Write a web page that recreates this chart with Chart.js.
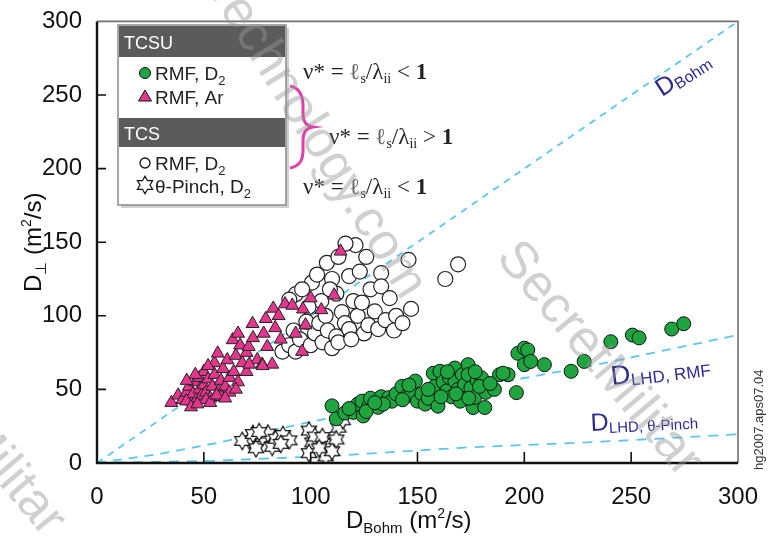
<!DOCTYPE html>
<html>
<head>
<meta charset="utf-8">
<script src="https://cdn.jsdelivr.net/npm/chart.js@4.4.0/dist/chart.umd.min.js"></script>
<style>
  html, body { margin: 0; padding: 0; background: #fff; }
</style>
</head>
<body>
<canvas id="chart" width="770" height="538"></canvas>
<script>
// TCSU, RMF, D2 (green dots)
const greenX = [110, 112, 116, 120, 122, 124.6, 124, 127, 128, 131.6, 133, 136.5, 138, 140, 142.7, 145, 147, 149, 150, 152,
  153.6, 155, 157.4, 158, 159.6, 160.5, 162, 163.7, 165, 166, 167.5, 167.5, 169, 170, 171, 172, 173.7, 173.7, 175, 176,
  176.7, 178, 180, 181.5, 182, 186, 188.4, 192.4, 196.3, 197, 200, 200, 201.6, 203, 209.4, 221.9, 228, 240.5, 250.6, 253.7,
  269, 274.6, 134, 143, 146, 155, 161, 164, 168, 174, 177, 179, 184, 190, 118, 126, 130];
const greenY = [38.8, 30, 34, 34.4, 40, 32, 42, 38, 44, 37.8, 45, 44.4, 42, 47, 52, 45.5, 48, 55.6, 42, 47,
  40, 44, 61, 52, 38.6, 62.3, 55, 49, 58, 45, 64.5, 55.5, 50, 42, 60, 53, 66.8, 60, 51, 37.7,
  44.5, 56, 57.8, 37.7, 48, 50, 60, 60, 47.8, 74.5, 66.8, 78, 76.8, 69, 66.8, 62.3, 69, 82.4, 86.9, 85,
  91, 94.6, 40, 43, 53, 50, 45, 62, 47, 44, 62, 52, 54, 61, 37, 35, 41];

// TCSU, RMF, Ar (pink triangles)
const pinkX = [34.8, 38, 40, 42, 43, 44, 45, 46, 47, 48, 48, 49, 50, 50, 51, 52, 53, 54, 55, 55,
  56.5, 57, 58, 59, 60, 61, 62, 63.5, 64, 65, 66, 67, 68, 70, 71, 72.8, 73, 75, 77.3, 78,
  79, 79.7, 82, 82.5, 83.4, 85, 86, 88, 91.4, 93, 96, 96.4, 97.6, 100, 105, 111, 114, 58, 52, 46,
  42, 62, 70, 66, 41.8, 51, 65, 71.3, 77.5, 44, 47, 53, 56, 60];
const pinkY = [41, 46, 43, 48, 52, 42, 47, 55, 44, 50, 58, 46, 53, 62, 48, 57, 44, 52, 60, 68,
  74.5, 49, 56, 64, 52, 70, 58, 83.6, 62, 73, 55, 80, 68, 75, 79, 94.6, 85, 70, 67, 88,
  98, 79, 67, 105, 91.8, 100, 84, 108, 107, 88, 75.7, 104.5, 93.7, 112, 104, 114, 143.8, 45, 66, 60,
  56, 48, 62, 88, 42, 43, 50, 67, 66, 38, 40, 41, 46, 44];

// TCS, RMF, D2 (open circles)
const openX = [86.8, 90, 93, 92, 95, 98, 100, 102, 105.6, 104, 107, 108, 110, 112, 113, 114.6, 116, 118, 118, 120,
  121, 116.3, 107.6, 100.6, 93, 90, 96, 103, 110, 112, 122, 124, 125, 127, 128, 130, 131.6, 133, 133, 135,
  137, 139, 140, 143, 145.8, 147, 163, 169, 105, 99, 113, 109, 123, 126, 119];
const openY = [75.7, 80, 75.7, 90, 84, 96, 80, 88, 82, 95, 100, 90, 78, 86, 82, 102.5, 95, 91, 127, 110,
  148, 149, 136, 122.6, 114.7, 111, 118, 128, 125, 115, 100, 109, 88, 93.6, 118, 103, 91, 129, 120, 97,
  112, 90, 100, 95, 138, 104.7, 125, 135, 110, 106, 140, 118, 130, 140, 84];

// TCS, theta-pinch, D2 (open stars)
const starX = [71.3, 74.4, 77.5, 80, 82, 83.7, 87, 90, 86, 99.2, 100.8, 99.2, 102, 105.5, 107, 108.6, 110, 113, 112, 104,
  68, 73, 75.9, 115];
const starY = [15.4, 10, 17.6, 20, 11, 16.5, 19, 15.4, 13, 22, 14, 6.7, 18, 17.6, 4.5, 11, 8, 24, 16, 10,
  15, 19.7, 21, 29];

// model curves
const bohmX = [0, 300];
const bohmY = [0, 300];
const lhdRmfX = [0, 30, 56, 100, 146, 188, 234, 300];
const lhdRmfY = [0, 6.3, 13.6, 28, 41, 54.5, 66.8, 87];
const lhdPinchX = [0, 55, 112, 172, 234, 300];
const lhdPinchY = [0, 1.5, 5, 10.5, 14.3, 19.5];

const xTicks = [0, 50, 100, 150, 200, 250, 300];
const yTicks = [0, 50, 100, 150, 200, 250, 300];

function pts(xs, ys) {
  return xs.map((x, i) => ({ x: x, y: ys[i] }));
}

function makeStar() {
  const c = document.createElement('canvas');
  c.width = 20; c.height = 20;
  const g = c.getContext('2d');
  g.beginPath();
  for (let i = 0; i < 12; i++) {
    const r = i % 2 ? 5 : 8.8;
    const a = -Math.PI / 2 + i * Math.PI / 6;
    const px = 10 + r * Math.cos(a), py = 10 + r * Math.sin(a);
    if (i) g.lineTo(px, py); else g.moveTo(px, py);
  }
  g.closePath();
  g.fillStyle = '#fff';
  g.fill();
  g.strokeStyle = '#111';
  g.lineWidth = 1.2;
  g.stroke();
  return c;
}
const starImg = makeStar();

const GREEN = '#1fa540';
const PINK = '#e6358e';
const BLUE = '#5cc6f0';
const NAVY = '#2b2b8e';
const SANS = '"Liberation Sans", Arial, sans-serif';
const SERIF = '"Liberation Serif", "DejaVu Serif", serif';

// draw text made of parts (sub/superscripts); returns width
function rich(ctx, x, y, parts, color) {
  let cx = x;
  parts.forEach(p => {
    ctx.font = (p.w || 'normal') + ' ' + p.s + 'px ' + (p.f || SANS);
    ctx.fillStyle = p.c || color;
    ctx.fillText(p.t, cx, y + (p.dy || 0));
    cx += ctx.measureText(p.t).width;
  });
  return cx - x;
}

const decor = {
  id: 'decor',
  afterDraw(chart) {
    const ctx = chart.ctx;
    const a = chart.chartArea;
    const xs = chart.scales.x, ys = chart.scales.y;
    ctx.save();
    ctx.textBaseline = 'alphabetic';
    ctx.textAlign = 'left';

    // frame
    ctx.strokeStyle = '#707070';
    ctx.lineWidth = 1.6;
    ctx.beginPath();
    ctx.moveTo(a.left, a.top); ctx.lineTo(a.right, a.top); ctx.lineTo(a.right, a.bottom);
    ctx.stroke();
    ctx.strokeStyle = '#111';
    ctx.lineWidth = 2.4;
    ctx.beginPath();
    ctx.moveTo(a.left, a.top); ctx.lineTo(a.left, a.bottom); ctx.lineTo(a.right, a.bottom);
    ctx.stroke();

    // inner ticks
    ctx.lineWidth = 1.6;
    ctx.beginPath();
    xTicks.slice(1, -1).forEach(v => {
      const px = xs.getPixelForValue(v);
      ctx.moveTo(px, a.bottom); ctx.lineTo(px, a.bottom - 11);
    });
    yTicks.slice(1, -1).forEach(v => {
      const py = ys.getPixelForValue(v);
      ctx.moveTo(a.left, py); ctx.lineTo(a.left + 9, py);
    });
    ctx.stroke();

    // axis titles
    rich(ctx, 346, 528, [
      { t: 'D', s: 24 }, { t: 'Bohm', s: 15, dy: 5 }, { t: ' (m', s: 24 }, { t: '2', s: 14, dy: -10 }, { t: '/s)', s: 24 }
    ], '#111');
    ctx.save();
    ctx.translate(41, 292);
    ctx.rotate(-Math.PI / 2);
    rich(ctx, 0, 0, [
      { t: 'D', s: 24 }, { t: '\u22A5', s: 15, dy: 5 }, { t: ' (m', s: 24 }, { t: '2', s: 14, dy: -10 }, { t: '/s)', s: 24 }
    ], '#111');
    ctx.restore();

    // side note
    ctx.save();
    ctx.translate(763, 470);
    ctx.rotate(-Math.PI / 2);
    ctx.font = '13px ' + SANS;
    ctx.fillStyle = '#333';
    ctx.fillText('hg2007.aps07.04', 0, 0);
    ctx.restore();

    // curve labels
    ctx.save();
    ctx.translate(662, 97);
    ctx.rotate(-33 * Math.PI / 180);
    rich(ctx, 0, 0, [{ t: 'D', s: 25 }, { t: 'Bohm', s: 16, dy: 3 }], NAVY);
    ctx.restore();
    ctx.save();
    ctx.translate(612, 385);
    ctx.rotate(-7 * Math.PI / 180);
    rich(ctx, 0, 0, [{ t: 'D', s: 27 }, { t: 'LHD, RMF', s: 17, dy: 3 }], NAVY);
    ctx.restore();
    ctx.save();
    ctx.translate(591, 431);
    ctx.rotate(-3 * Math.PI / 180);
    rich(ctx, 0, 0, [{ t: 'D', s: 25 }, { t: 'LHD, \u03B8-Pinch', s: 15, dy: 3 }], NAVY);
    ctx.restore();

    // legend box
    const L = 118, T = 25, R = 286, B = 205;
    ctx.fillStyle = 'rgba(0,0,0,0.18)';
    ctx.fillRect(L + 3, T + 3, R - L, B - T);
    ctx.fillStyle = '#fff';
    ctx.fillRect(L, T, R - L, B - T);
    ctx.strokeStyle = '#8a8a8a';
    ctx.lineWidth = 1.5;
    ctx.strokeRect(L, T, R - L, B - T);
    ctx.fillStyle = '#5b5b5b';
    ctx.fillRect(L + 1, T + 1, R - L - 2, 31);
    ctx.fillRect(L + 1, 118, R - L - 2, 29);
    ctx.font = '18px ' + SANS;
    ctx.fillStyle = '#fff';
    ctx.fillText('TCSU', 124, 49);
    ctx.fillText('TCS', 124, 140);

    // legend markers
    ctx.lineWidth = 1;
    ctx.strokeStyle = '#111';
    ctx.fillStyle = GREEN;
    ctx.beginPath(); ctx.arc(145, 73, 5.5, 0, 2 * Math.PI); ctx.fill(); ctx.stroke();
    ctx.fillStyle = PINK;
    ctx.beginPath(); ctx.moveTo(145, 90); ctx.lineTo(151.5, 101); ctx.lineTo(138.5, 101); ctx.closePath(); ctx.fill(); ctx.stroke();
    ctx.fillStyle = '#fff';
    ctx.lineWidth = 1.3;
    ctx.beginPath(); ctx.arc(145, 163, 5, 0, 2 * Math.PI); ctx.fill(); ctx.stroke();
    ctx.drawImage(starImg, 135, 175);

    rich(ctx, 155, 80, [{ t: 'RMF, D', s: 19 }, { t: '2', s: 13, dy: 5 }], '#222');
    rich(ctx, 155, 104, [{ t: 'RMF, Ar', s: 19 }], '#222');
    rich(ctx, 155, 170, [{ t: 'RMF, D', s: 19 }, { t: '2', s: 13, dy: 5 }], '#222');
    rich(ctx, 155, 193, [{ t: '\u03B8-Pinch, D', s: 19 }, { t: '2', s: 13, dy: 5 }], '#222');

    // collisionality notes
    const nu = (x, y, op) => rich(ctx, x, y, [
      { t: '\u03BD* = ', s: 23, f: SERIF }, { t: '\u2113', s: 23, f: SERIF, c: '#666' },
      { t: 's', s: 14, f: SERIF, dy: 4 }, { t: '/\u03BB', s: 23, f: SERIF },
      { t: 'ii', s: 14, f: SERIF, dy: 4 }, { t: ' ' + op + ' ', s: 23, f: SERIF },
      { t: '1', s: 23, f: SERIF, w: 'bold' }
    ], '#222');
    nu(303, 79, '<');
    nu(329, 144, '>');
    nu(303, 194, '<');

    // brace
    ctx.strokeStyle = '#e040a8';
    ctx.lineWidth = 3;
    ctx.beginPath();
    ctx.moveTo(290, 86);
    ctx.bezierCurveTo(300, 88, 303, 96, 303, 106);
    ctx.lineTo(303, 114);
    ctx.bezierCurveTo(303, 122, 306, 126, 313, 127);
    ctx.bezierCurveTo(306, 128, 303, 132, 303, 140);
    ctx.lineTo(303, 150);
    ctx.bezierCurveTo(303, 160, 300, 166, 290, 168);
    ctx.stroke();

    // watermark
    ctx.fillStyle = 'rgba(150,150,150,0.45)';
    ctx.font = '52px ' + SANS;
    const wm = (x, y, deg, t) => {
      ctx.save(); ctx.translate(x, y); ctx.rotate(deg * Math.PI / 180); ctx.fillText(t, 0, 0); ctx.restore();
    };
    wm(205, -14, 58, 'Technology.com');
    wm(495, 258, 50, 'SecretMilitar');
    wm(-45, 432, 50, 'Militar');

    ctx.restore();
  }
};

const lineStyle = { showLine: true, pointRadius: 0, borderColor: BLUE, borderWidth: 1.8, fill: false, order: 10 };

new Chart(document.getElementById('chart'), {
  type: 'scatter',
  data: {
    datasets: [
      Object.assign({ data: pts(bohmX, bohmY), borderDash: [7, 6] }, lineStyle),
      Object.assign({ data: pts(lhdRmfX, lhdRmfY), borderDash: [9, 7] }, lineStyle),
      Object.assign({ data: pts(lhdPinchX, lhdPinchY), borderDash: [10, 8] }, lineStyle),
      { data: pts(openX, openY), pointStyle: 'circle', pointRadius: 7.5, backgroundColor: '#fff',
        borderColor: '#222', borderWidth: 1.2, order: 3 },
      { data: pts(starX, starY), pointStyle: starImg, order: 3 },
      { data: pts(greenX, greenY), pointStyle: 'circle', pointRadius: 7, backgroundColor: GREEN,
        borderColor: '#111', borderWidth: 1, order: 1 },
      { data: pts(pinkX, pinkY), pointStyle: 'triangle', pointRadius: 7.5, backgroundColor: PINK,
        borderColor: '#222', borderWidth: 1, order: 1 }
    ]
  },
  options: {
    responsive: false,
    animation: false,
    layout: { padding: { top: 15, right: 29, left: 0, bottom: 0 } },
    plugins: { legend: { display: false }, tooltip: { enabled: false } },
    scales: {
      x: {
        type: 'linear', min: 0, max: 300,
        grid: { display: false }, border: { display: false },
        afterBuildTicks: s => { s.ticks = xTicks.map(v => ({ value: v })); },
        afterFit: s => { s.height = 75; },
        ticks: { padding: 12, maxRotation: 0, color: '#111', font: { family: SANS, size: 24 } }
      },
      y: {
        type: 'linear', min: 0, max: 300,
        grid: { display: false }, border: { display: false },
        afterBuildTicks: s => { s.ticks = yTicks.map(v => ({ value: v })); },
        afterFit: s => { s.width = 97; },
        ticks: { padding: 7, color: '#111', font: { family: SANS, size: 24 } }
      }
    }
  },
  plugins: [decor]
});
</script>
</body>
</html>
